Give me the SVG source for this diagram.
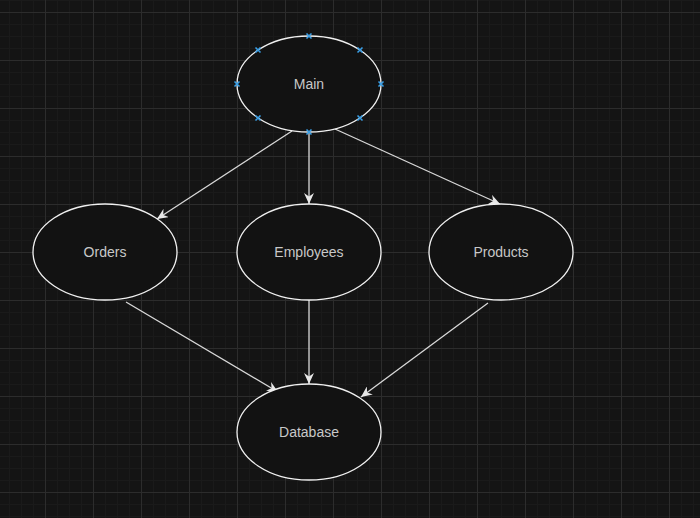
<svg xmlns="http://www.w3.org/2000/svg" width="700" height="518" viewBox="0 0 700 518">
<style>
.node ellipse{fill:#121212;stroke:#f0f0f0;stroke-width:1.3}
.node text{font-family:"Liberation Sans",Arial,sans-serif;font-size:14px;fill:#c8c8c8;text-anchor:middle}
.edge{stroke:#d8d8d8;stroke-width:1.3;fill:none;marker-end:url(#arr)}
.h{stroke:#3a9fe6;stroke-width:1.6;fill:none}
</style>
<defs>
<pattern id="grid" x="-3" y="12" width="48" height="48" patternUnits="userSpaceOnUse">
<rect width="48" height="48" fill="#141414"/>
<rect x="12" y="0" width="1" height="48" fill="#1a1a1a"/>
<rect x="24" y="0" width="1" height="48" fill="#1a1a1a"/>
<rect x="36" y="0" width="1" height="48" fill="#1a1a1a"/>
<rect x="0" y="12" width="48" height="1" fill="#1a1a1a"/>
<rect x="0" y="24" width="48" height="1" fill="#1a1a1a"/>
<rect x="0" y="36" width="48" height="1" fill="#1a1a1a"/>
<rect x="0" y="0" width="1" height="48" fill="#2c2c2c"/>
<rect x="0" y="0" width="48" height="1" fill="#2c2c2c"/>
</pattern>
<marker id="arr" viewBox="0 0 11 10" refX="11" refY="5" markerWidth="11" markerHeight="10" markerUnits="userSpaceOnUse" orient="auto">
<path d="M0,0 L11,5 L0,10 L3.5,5 Z" fill="#e8e8e8"/>
</marker>
</defs>
<rect width="700" height="518" fill="url(#grid)"/>
<g id="connectors">
<line class="edge" x1="292" y1="131" x2="157" y2="219"/>
<line class="edge" x1="309" y1="132" x2="309" y2="204"/>
<line class="edge" x1="335" y1="129" x2="500" y2="204"/>
<line class="edge" x1="126" y1="302" x2="278" y2="392"/>
<line class="edge" x1="309" y1="300" x2="309" y2="384"/>
<line class="edge" x1="488" y1="303" x2="361" y2="397"/>
</g>
<g id="main" class="node">
<ellipse cx="309" cy="84" rx="72" ry="48"/>
<text x="309" y="89">Main</text>
<g class="h">
<path d="M306.5,33.5 l5,5 m0,-5 l-5,5"/>
<path d="M306.5,129.5 l5,5 m0,-5 l-5,5"/>
<path d="M234.5,81.5 l5,5 m0,-5 l-5,5"/>
<path d="M378.5,81.5 l5,5 m0,-5 l-5,5"/>
<path d="M255.5,47.5 l5,5 m0,-5 l-5,5"/>
<path d="M357.5,47.5 l5,5 m0,-5 l-5,5"/>
<path d="M255.5,115.5 l5,5 m0,-5 l-5,5"/>
<path d="M357.5,115.5 l5,5 m0,-5 l-5,5"/>
</g>
</g>
<g id="orders" class="node">
<ellipse cx="105" cy="252" rx="72" ry="48"/>
<text x="105" y="257">Orders</text>
</g>
<g id="employees" class="node">
<ellipse cx="309" cy="252" rx="72" ry="48"/>
<text x="309" y="257">Employees</text>
</g>
<g id="products" class="node">
<ellipse cx="501" cy="252" rx="72" ry="48"/>
<text x="501" y="257">Products</text>
</g>
<g id="database" class="node">
<ellipse cx="309" cy="432" rx="72" ry="48"/>
<text x="309" y="437">Database</text>
</g>
</svg>
